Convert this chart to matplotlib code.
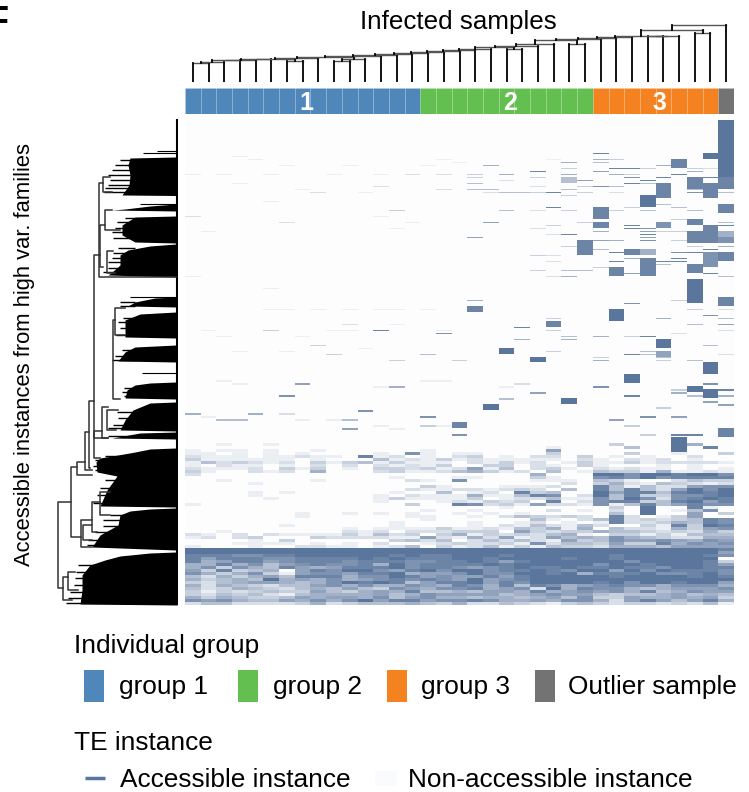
import matplotlib

matplotlib.use("Agg")  # no display in the sandbox
import matplotlib.pyplot as plt
import numpy as np
from matplotlib.colors import LinearSegmentedColormap
from matplotlib.patches import Rectangle

W, H = 749, 792
HEAT_BLUE = "#5b769c"

plt.rcParams["font.family"] = ["Liberation Sans", "DejaVu Sans"]

# groups along the top colour bar
group_names = ["group 1", "group 2", "group 3", "Outlier sample"]
group_sizes = [15, 11, 8, 1]
group_colors = ["#4f87bb", "#62bf50", "#f58220", "#737373"]
group_numbers = ["1", "2", "3", ""]

# sample dendrogram, linkage style: ids from 35 up are earlier merges
col_link_a = [0, 35, 36, 37, 38, 6, 39, 41, 9, 43, 42, 45, 46, 47, 48, 49, 50, 51, 52, 20, 53, 55, 56,
              24, 57, 59, 60, 61, 29, 63, 62, 32, 65, 67]
col_link_b = [1, 2, 3, 4, 5, 7, 40, 8, 10, 11, 44, 12, 13, 14, 15, 16, 17, 18, 19, 21, 54, 22, 23,
              25, 58, 26, 27, 28, 30, 31, 64, 33, 66, 34]
col_link_h = [19.3, 20.3, 21.7, 22.3, 22.7, 20.7, 23.3, 24, 21.3, 22.7, 24.7, 25.7, 27, 27.7, 29, 30,
              31, 31.7, 32.7, 32.7, 34.7, 36.3, 38.3, 37.7, 42.3, 43, 44.3, 45, 45.7, 46.3, 46,
              49, 52.3, 57.3]

# sparse upper part of the heatmap: (column, first row, number of rows, level 0-9)
sparse_cells = [
    (34, 0, 19, 9), (34, 19, 4, 8), (34, 24, 1, 4), (34, 28, 3, 8), (34, 34, 1, 4), (34, 35, 1, 8),
    (34, 37, 2, 5), (34, 39, 2, 7), (34, 42, 1, 5), (34, 44, 3, 8), (34, 52, 1, 4), (34, 59, 3, 8),
    (34, 63, 1, 2), (34, 66, 1, 4), (34, 68, 1, 6), (34, 70, 1, 2), (34, 78, 1, 2), (34, 90, 1, 8),
    (34, 92, 1, 5), (34, 95, 1, 6), (34, 103, 3, 8),
    (33, 11, 2, 9), (33, 16, 1, 2), (33, 19, 1, 8), (33, 21, 2, 8), (33, 23, 3, 8), (33, 35, 3, 8),
    (33, 38, 3, 8), (33, 43, 1, 8), (33, 44, 5, 7), (33, 51, 1, 8), (33, 65, 1, 7), (33, 75, 1, 4),
    (33, 81, 4, 9), (33, 88, 1, 7), (33, 90, 3, 9), (33, 94, 1, 6),
    (32, 16, 1, 3), (32, 17, 1, 5), (32, 19, 4, 8), (32, 23, 1, 4), (32, 24, 1, 7), (32, 30, 1, 4),
    (32, 33, 2, 8), (32, 37, 4, 8), (32, 42, 1, 3), (32, 44, 1, 8), (32, 48, 3, 8), (32, 53, 8, 9),
    (32, 63, 1, 3), (32, 68, 1, 4), (32, 80, 1, 4), (32, 89, 2, 9), (32, 92, 1, 4), (32, 105, 1, 8),
    (31, 13, 3, 8), (31, 18, 1, 8), (31, 29, 1, 4), (31, 33, 1, 3), (31, 37, 1, 3), (31, 40, 1, 3),
    (31, 44, 1, 7), (31, 46, 1, 8), (31, 47, 1, 8), (31, 60, 1, 3), (31, 71, 1, 2), (31, 90, 1, 3),
    (31, 91, 1, 5), (31, 99, 1, 6), (31, 105, 1, 8), (31, 106, 2, 9),
    (30, 15, 1, 5), (30, 19, 1, 8), (30, 21, 5, 8), (30, 28, 1, 4), (30, 34, 2, 7), (30, 37, 1, 3),
    (30, 47, 1, 8), (30, 48, 1, 4), (30, 66, 1, 5), (30, 73, 3, 9), (30, 77, 2, 6), (30, 79, 1, 4),
    (30, 80, 1, 3), (30, 96, 1, 3),
    (29, 16, 1, 3), (29, 20, 1, 8), (29, 21, 1, 4), (29, 25, 4, 9), (29, 30, 1, 4), (29, 36, 1, 7),
    (29, 37, 1, 6), (29, 38, 1, 8), (29, 39, 1, 6), (29, 40, 1, 7), (29, 43, 2, 5), (29, 46, 2, 8),
    (29, 48, 2, 8), (29, 50, 2, 8), (29, 72, 1, 8), (29, 77, 1, 4), (29, 78, 1, 4), (29, 99, 1, 7),
    (29, 105, 1, 3),
    (28, 16, 1, 8), (28, 18, 1, 3), (28, 19, 1, 7), (28, 21, 1, 8), (28, 29, 1, 3), (28, 35, 1, 8),
    (28, 36, 1, 8), (28, 43, 2, 8), (28, 46, 1, 5), (28, 51, 1, 6), (28, 61, 1, 7), (28, 72, 1, 3),
    (28, 78, 1, 8), (28, 85, 3, 9), (28, 92, 1, 8), (28, 102, 1, 3),
    (27, 13, 1, 3), (27, 16, 1, 8), (27, 18, 1, 5), (27, 22, 1, 4), (27, 24, 1, 2), (27, 30, 1, 3),
    (27, 40, 1, 5), (27, 44, 1, 8), (27, 47, 1, 8), (27, 49, 3, 8), (27, 63, 4, 9), (27, 100, 1, 6),
    (26, 11, 1, 8), (26, 13, 1, 5), (26, 14, 1, 4), (26, 17, 1, 6), (26, 22, 1, 7), (26, 29, 4, 8),
    (26, 34, 2, 8), (26, 37, 1, 5), (26, 40, 1, 6), (26, 43, 1, 4), (26, 49, 1, 3), (26, 72, 1, 5),
    (26, 79, 1, 3), (26, 80, 1, 5), (26, 89, 1, 7),
    (25, 20, 1, 6), (25, 22, 1, 3), (25, 24, 1, 3), (25, 34, 1, 3), (25, 40, 5, 8), (25, 50, 1, 4),
    (24, 14, 1, 5), (24, 16, 1, 3), (24, 18, 1, 5), (24, 19, 2, 4), (24, 23, 1, 4), (24, 25, 1, 3),
    (24, 30, 1, 3), (24, 38, 1, 8), (24, 42, 1, 3), (24, 50, 1, 4), (24, 52, 1, 5), (24, 72, 1, 4),
    (24, 73, 1, 5), (24, 93, 2, 9),
    (23, 13, 1, 1), (23, 24, 1, 8), (23, 29, 1, 8), (23, 35, 1, 3), (23, 38, 1, 2), (23, 45, 1, 2),
    (23, 47, 1, 2), (23, 52, 1, 2), (23, 66, 1, 3), (23, 67, 2, 8), (23, 70, 1, 3), (23, 77, 1, 3),
    (22, 17, 1, 8), (22, 19, 1, 3), (22, 22, 1, 2), (22, 24, 1, 3), (22, 30, 1, 2), (22, 36, 1, 2),
    (22, 45, 1, 3), (22, 50, 1, 3), (22, 79, 2, 9), (22, 91, 1, 6),
    (21, 24, 1, 4), (21, 69, 1, 8), (21, 73, 1, 5), (21, 88, 1, 2),
    (20, 18, 1, 5), (20, 20, 1, 2), (20, 24, 1, 4), (20, 30, 1, 4), (20, 76, 2, 9), (20, 93, 1, 4),
    (19, 15, 1, 5), (19, 23, 1, 4), (19, 24, 1, 2), (19, 34, 1, 6), (19, 95, 2, 9),
    (18, 18, 1, 3), (18, 19, 1, 3), (18, 21, 1, 4), (18, 23, 1, 4), (18, 39, 1, 6), (18, 60, 1, 5),
    (18, 62, 2, 8),
    (17, 80, 1, 3), (17, 101, 2, 8), (17, 105, 1, 7),
    (16, 13, 1, 1), (16, 18, 1, 2), (16, 23, 1, 2), (16, 71, 1, 7),
    (15, 78, 1, 4), (15, 99, 1, 7), (15, 102, 1, 3),
    (14, 18, 1, 2), (13, 30, 1, 3), (13, 80, 1, 3), (13, 89, 1, 5),
    (12, 18, 1, 1), (12, 22, 1, 2), (12, 70, 1, 8),
    (11, 97, 1, 7), (10, 15, 1, 1), (10, 68, 1, 2), (10, 100, 1, 4), (10, 103, 1, 6),
    (9, 78, 1, 3), (8, 24, 1, 2), (8, 75, 1, 3), (7, 88, 1, 6), (6, 34, 1, 2), (6, 92, 1, 7),
    (6, 98, 1, 2), (5, 70, 1, 3), (4, 98, 1, 5), (3, 100, 1, 4), (2, 100, 1, 4), (0, 18, 1, 1),
    (0, 32, 1, 2), (0, 52, 1, 1), (0, 98, 1, 5),
    # faint streaks on the left and middle
    (1, 37, 1, 1), (2, 18, 1, 1), (3, 12, 1, 1), (3, 21, 1, 1), (4, 13, 1, 1), (5, 27, 1, 1),
    (5, 18, 1, 1), (6, 15, 1, 1), (7, 23, 1, 1), (8, 24, 1, 1), (9, 18, 1, 1), (11, 24, 1, 1),
    (12, 32, 1, 1), (13, 36, 1, 1), (14, 34, 1, 1), (15, 15, 1, 1), (16, 23, 1, 1), (17, 14, 1, 1),
    (5, 56, 1, 1), (5, 63, 1, 1), (6, 63, 1, 1), (8, 63, 1, 1), (10, 63, 1, 1), (12, 63, 1, 1),
    (13, 63, 1, 1), (15, 63, 1, 1), (16, 70, 1, 1), (13, 68, 1, 1), (9, 70, 1, 1), (10, 70, 1, 1),
    (6, 77, 1, 1), (3, 77, 1, 1), (1, 70, 1, 1), (2, 72, 1, 1), (7, 72, 1, 1), (11, 76, 1, 1),
    (3, 88, 1, 1), (2, 87, 1, 1), (15, 87, 1, 1), (16, 87, 1, 1), (12, 89, 1, 1), (20, 89, 1, 1),
    (1, 99, 1, 1), (7, 100, 1, 1), (9, 100, 1, 1), (12, 102, 1, 1), (13, 103, 1, 1), (16, 102, 1, 1),
]

# dense lower part of the heatmap, rows 108-161, one digit per column
dense_rows = [
    "00100 10000 00000 00000 00000 00300 09500",
    "00000 00000 00000 00000 00010 00040 09080",
    "10110 10010 00000 10000 00060 00000 09000",
    "11010 10100 00107 10110 00030 00030 01003",
    "21110 11211 08120 10230 10220 30101 00200",
    "31111 11010 00412 13121 11110 21021 20100",
    "14232 12031 34131 11021 31201 31131 22221",
    "10211 01020 20212 13003 30210 31000 10100",
    "21112 03130 10332 31261 40231 02121 10101",
    "31002 12050 00231 12453 12040 14331 51121",
    "20000 00000 00000 00000 00500 09979 98997",
    "00000 00000 00010 00110 00310 07879 78888",
    "00100 00010 00002 10700 00111 04310 02433",
    "00001 00000 00000 00000 00002 03521 43212",
    "00000 00000 00000 31000 11120 08414 22677",
    "00000 00000 00002 11221 23204 08484 26979",
    "00001 01000 00010 04012 08340 09688 48989",
    "00001 00000 00102 11151 14870 29483 37789",
    "00000 10000 00131 11130 12241 17497 27898",
    "00000 00000 00100 01213 23080 27883 48968",
    "10000 00000 00003 00872 31622 17148 46877",
    "00000 00000 00000 00000 10000 00309 00810",
    "00000 00000 00000 10010 00020 10209 01470",
    "00000 00100 10101 00101 01000 00409 00603",
    "00000 00100 00001 10010 24323 20820 13600",
    "00000 00000 00000 10000 00410 24823 23487",
    "00000 00000 00010 00010 01201 01822 35487",
    "00000 01000 00010 00010 21421 42003 18398",
    "00000 00000 10111 13112 14351 50422 15367",
    "00100 00000 21202 22333 06323 35443 23253",
    "21020 21111 31423 03513 23245 10331 31444",
    "12023 00032 22211 62152 61264 54754 32255",
    "00001 03000 00034 24024 24216 34766 76576",
    "00011 11010 10200 12322 31724 43633 85767",
    "10001 00221 10124 03124 13143 32555 46666",
    "99999 99999 99999 99999 99999 99999 99998",
    "99999 99999 99999 99999 99999 99999 99996",
    "88877 88999 99989 88999 89999 99899 99987",
    "86888 77888 89898 88998 99998 99899 99990",
    "85688 67888 78887 78898 68999 99979 99983",
    "55857 46787 78597 88889 89999 97998 99986",
    "57375 48656 88897 88767 89889 88988 79988",
    "63834 50687 99768 97997 88987 99697 98887",
    "75357 31677 68895 66797 79989 58889 77897",
    "42535 64888 57798 67668 68999 99899 99898",
    "53454 95657 56787 87696 78999 99999 99999",
    "32456 65457 98984 68896 87999 98979 98996",
    "52543 24467 57557 65875 84875 67877 57775",
    "42354 32454 64376 57785 67295 87754 56667",
    "31323 43364 35658 44546 65856 76758 45766",
    "32434 21455 55645 76666 45676 64344 56454",
    "53543 34656 65746 75545 54564 73365 56563",
    "76754 46575 79688 67787 55657 75268 64685",
    "24422 22352 34445 43522 43213 43233 23241",
]

# left edge of the black leaf mass of the row dendrogram, read down the picture
leaf_y = [157, 158, 165, 175, 185, 195, 195.5, 204, 206, 209, 210, 211, 216, 217, 225, 235, 242, 243,
          244, 246, 250, 255, 265, 272, 275, 277, 297, 298, 302, 306, 307, 312, 314, 320, 330, 337,
          338, 345, 347, 352, 361, 362, 382, 383, 385, 390, 398, 399, 402, 403, 410, 420, 430, 431,
          432, 433, 438, 439, 448, 449, 452, 455, 458, 462, 472, 476, 490, 506, 507, 508, 509, 511,
          515, 525, 535, 547, 550, 552, 553, 556, 560, 565, 575, 590, 604, 605]
leaf_x = [176, 130, 128, 130, 129, 122, 176, 176, 150, 125, 112, 176, 176, 135, 122, 122, 135, 176,
          176, 150, 128, 120, 120, 112, 108, 176, 176, 155, 135, 128, 176, 176, 140, 125, 125, 125,
          176, 176, 135, 125, 118, 176, 176, 150, 135, 127, 125, 176, 176, 150, 133, 125, 120, 176,
          176, 140, 112, 176, 176, 150, 135, 118, 100, 96, 97, 117, 107, 100, 176, 176, 150, 130,
          120, 118, 100, 92, 176, 176, 150, 120, 105, 90, 82, 82, 80, 176]

# row dendrogram brackets: vertical at x, arms at y_top / y_bot reaching to x_top / x_bot
tree_x = [58, 71, 77, 85, 89, 94, 94, 99, 100, 105, 103, 107, 113, 115, 102, 107, 63, 68, 81, 92, 83, 100]
tree_y_top = [502, 467, 462, 432, 401, 255, 431, 183, 225, 210, 177, 251, 320, 308, 407, 410, 577, 572, 520, 502, 525, 492]
tree_y_bot = [588, 537, 475, 470, 468, 458, 438, 277, 267, 230, 192, 273, 399, 335, 438, 430, 600, 590, 547, 532, 540, 515]
tree_x_top = [71, 77, 85, 89, 94, 100, 102, 103, 105, 112, 110, 113, 115, 125, 108, 118, 68, 75, 92, 100, 92, 110]
tree_x_bot = [63, 81, 92, 92, 90, 100, 108, 176, 103, 120, 112, 115, 120, 125, 108, 116, 72, 78, 92, 97, 92, 110]

# thin single-leaf twigs above the first mass
twig_y = [150.7, 153, 204, 297, 373]
twig_x = [157, 143, 140, 130, 142]

# short branch tips sticking out of the black mass
fringe_y = [160, 165, 170, 175, 180, 185, 188, 192, 218, 222, 228, 232, 238, 248, 253, 258, 262, 268, 272,
            302, 306, 318, 322, 328, 335, 350, 356, 360, 388, 392, 396, 412, 418, 425, 428, 436,
            456, 460, 466, 470, 480, 488, 495, 503, 515, 520, 526, 532, 540, 545,
            565, 572, 578, 585, 592, 598, 603]
fringe_x = [120, 115, 112, 108, 110, 108, 105, 104, 125, 117, 115, 112, 113, 118, 113, 112, 108, 108, 103,
            120, 120, 123, 118, 120, 116, 122, 115, 112, 124, 122, 124, 117, 118, 113, 108, 108,
            105, 95, 93, 95, 105, 100, 97, 93, 110, 103, 103, 95, 88, 87,
            78, 76, 75, 74, 70, 68, 66]


def px_axes(fig, left, top, right, bottom):
    # axes from reference pixel edges
    return fig.add_axes([left / W, 1 - bottom / H, (right - left) / W, (bottom - top) / H])


def build_matrix():
    # two sub-rows per row so that single instances come out as thin lines
    dense = np.array([[int(c) for c in row.replace(" ", "")] for row in dense_rows], dtype=float)
    n_cols = dense.shape[1]
    mat = np.zeros((2 * (108 + dense.shape[0]), n_cols))
    mat[216:] = np.repeat(dense, 2, axis=0)
    for col, start, n, level in sparse_cells:
        first = 2 * start
        last = first + (1 if n == 1 else 2 * n)
        mat[first:last, col] = np.maximum(mat[first:last, col], level)
    return mat


def draw_col_dendrogram(ax, n_leaves):
    pos = list(np.arange(n_leaves) + 0.5)
    height = [0.0] * n_leaves
    for a, b, h in zip(col_link_a, col_link_b, col_link_h):
        ax.plot([pos[a], pos[b]], [h, h], color="#555555", lw=1.0)
        ax.plot([pos[a], pos[a]], [height[a], h], color="black", lw=1.3)
        ax.plot([pos[b], pos[b]], [height[b], h], color="black", lw=1.3)
        pos.append((pos[a] + pos[b]) / 2)
        height.append(h)


fig = plt.figure(figsize=(W / 100, H / 100), dpi=100, facecolor="white")

matrix = build_matrix()
heat_cmap = LinearSegmentedColormap.from_list("te", ["#fdfdfe", HEAT_BLUE])

ax_heat = px_axes(fig, 185, 120, 734, 605)
ax_heat.imshow(matrix, aspect="auto", cmap=heat_cmap, vmin=0, vmax=9, interpolation="nearest")
ax_heat.axis("off")

# group colour bar, one cell per sample with a faint white edge
ax_bar = px_axes(fig, 185, 88, 734, 114)
left = 0
for size, color, number in zip(group_sizes, group_colors, group_numbers):
    ax_bar.bar(np.arange(left, left + size) + 0.5, 1, width=1, color=color,
               edgecolor="#ffffff22", linewidth=0.5)
    if number:
        ax_bar.text(left + size / 2 + 0.22, 0.42, number, color="white",
                    fontsize=18, fontweight="bold", ha="center", va="center")
    left += size
ax_bar.set_xlim(0, sum(group_sizes))
ax_bar.set_ylim(0, 1)
ax_bar.axis("off")

ax_top = px_axes(fig, 185, 20, 734, 82)
draw_col_dendrogram(ax_top, sum(group_sizes))
ax_top.set_xlim(0, sum(group_sizes))
ax_top.set_ylim(0, 62)
ax_top.axis("off")

# row dendrogram in picture pixels
ax_left = px_axes(fig, 50, 119, 178, 606)
ax_left.fill_betweenx(leaf_y, leaf_x, 177, color="black", lw=0)
ax_left.hlines(twig_y, twig_x, 177, color="black", lw=0.8)
ax_left.hlines(fringe_y, fringe_x, 135, color="black", lw=1.0)
ax_left.vlines(176.8, 119, 605, color="black", lw=1.5)
for x, y0, y1, x0, x1 in zip(tree_x, tree_y_top, tree_y_bot, tree_x_top, tree_x_bot):
    ax_left.plot([x0, x, x, x1], [y0, y0, y1, y1], color="#333333", lw=1.1)
ax_left.set_xlim(50, 178)
ax_left.set_ylim(606, 119)
ax_left.axis("off")

# text and legends on a full-figure layer in pixels
ax_txt = px_axes(fig, 0, 0, W, H)
ax_txt.set_xlim(0, W)
ax_txt.set_ylim(H, 0)
ax_txt.axis("off")
ax_txt.patch.set_alpha(0)

ax_txt.text(458, 22, "Infected samples", fontsize=18.7, ha="center", va="center")
ax_txt.text(25, 355, "Accessible instances from high var. families", fontsize=15.8,
            rotation=90, ha="center", va="center")
ax_txt.text(-13, 5, "F", fontsize=26, fontweight="bold", ha="left", va="top")

ax_txt.text(74, 646, "Individual group", fontsize=18.9, ha="left", va="center")
patch_x = [84, 238, 387, 535]
label_x = [119, 273, 421, 568]
for name, color, px, lx in zip(group_names, group_colors, patch_x, label_x):
    ax_txt.add_patch(Rectangle((px, 670), 20, 32, color=color, lw=0))
    ax_txt.text(lx, 687, name, fontsize=18.9, ha="left", va="center")

ax_txt.text(74, 743, "TE instance", fontsize=18.9, ha="left", va="center")
ax_txt.plot([85, 105], [778, 778], color=HEAT_BLUE, lw=2.5, solid_capstyle="butt")
ax_txt.text(120, 780, "Accessible instance", fontsize=18.9, ha="left", va="center")
ax_txt.add_patch(Rectangle((375, 771), 22, 15, color="#fafbfc", lw=0))
ax_txt.text(408, 780, "Non-accessible instance", fontsize=18.9, ha="left", va="center")

fig.savefig("out.png", dpi=100)
